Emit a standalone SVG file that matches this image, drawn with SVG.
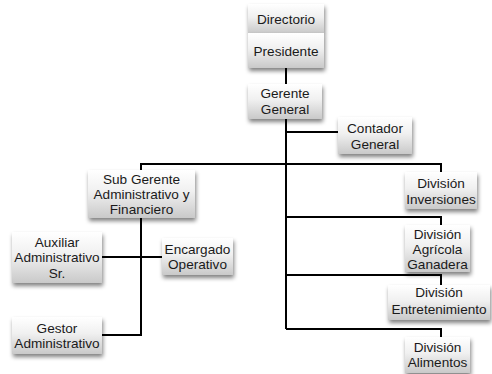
<svg xmlns="http://www.w3.org/2000/svg" width="492" height="374" viewBox="0 0 492 374">
<defs>
<linearGradient id="g" x1="0" y1="0" x2="0" y2="1">
<stop offset="0" stop-color="#ffffff"/>
<stop offset="0.45" stop-color="#f0f0f0"/>
<stop offset="1" stop-color="#c9c9c9"/>
</linearGradient>
<filter id="sh" x="-20%" y="-20%" width="150%" height="160%">
<feGaussianBlur in="SourceAlpha" stdDeviation="2"/>
<feOffset dx="1" dy="3" result="b"/>
<feComponentTransfer><feFuncA type="linear" slope="0.5"/></feComponentTransfer>
<feMerge><feMergeNode/><feMergeNode in="SourceGraphic"/></feMerge>
</filter>
</defs>
<style>
rect.n{fill:url(#g);filter:url(#sh);}
text{font-family:"Liberation Sans",Arial,sans-serif;font-size:13.6px;fill:#1a1a1a;text-anchor:middle;}
.c{stroke:#000;stroke-width:2;fill:none;}
</style>
<rect width="492" height="374" fill="#fff"/>
<g id="connectors" class="c">
<path d="M286 68V84"/>
<path d="M286 119V329"/>
<path d="M286 132H338"/>
<path d="M141 170V164H441V172"/>
<path d="M286 217H441V225"/>
<path d="M286 275H441V285"/>
<path d="M286 329H441V337"/>
<path d="M141 218V335H102"/>
<path d="M102 257H162"/>
</g>
<g id="directorio"><rect class="n" x="248" y="4" width="76" height="29"/><text x="286" y="23.5">Directorio</text></g>
<g id="presidente"><rect class="n" x="248" y="33" width="76" height="35"/><text x="286" y="55.5">Presidente</text></g>
<g id="gerente"><rect class="n" x="248" y="84" width="74" height="35"/><text x="285" y="98">Gerente</text><text x="285" y="113.5">General</text></g>
<g id="contador"><rect class="n" x="338" y="117" width="74" height="37"/><text x="375" y="133">Contador</text><text x="375" y="148.5">General</text></g>
<g id="subgerente"><rect class="n" x="88" y="170" width="107" height="48"/><text x="141.5" y="184">Sub Gerente</text><text x="141.5" y="199">Administrativo y</text><text x="141.5" y="214">Financiero</text></g>
<g id="inversiones"><rect class="n" x="405" y="172" width="72" height="37"/><text x="441" y="188">División</text><text x="441" y="203.5">Inversiones</text></g>
<g id="auxiliar"><rect class="n" x="12" y="232" width="90" height="51"/><text x="57" y="246.5">Auxiliar</text><text x="57" y="262">Administrativo</text><text x="57" y="277.5">Sr.</text></g>
<g id="encargado"><rect class="n" x="162" y="238" width="71" height="37"/><text x="197.5" y="253.5">Encargado</text><text x="197.5" y="268.5">Operativo</text></g>
<g id="gestor"><rect class="n" x="12" y="317" width="90" height="37"/><text x="57" y="332.5">Gestor</text><text x="57" y="348">Administrativo</text></g>
<g id="agricola"><rect class="n" x="405" y="225" width="65" height="47"/><text x="437.5" y="238.5">División</text><text x="437.5" y="254">Agrícola</text><text x="437.5" y="269">Ganadera</text></g>
<g id="entretenimiento"><rect class="n" x="388" y="285" width="102" height="35"/><text x="439" y="297">División</text><text x="439" y="313.5">Entretenimiento</text></g>
<g id="alimentos"><rect class="n" x="405" y="337" width="65" height="36"/><text x="437.5" y="351.5">División</text><text x="437.5" y="367">Alimentos</text></g>
</svg>
